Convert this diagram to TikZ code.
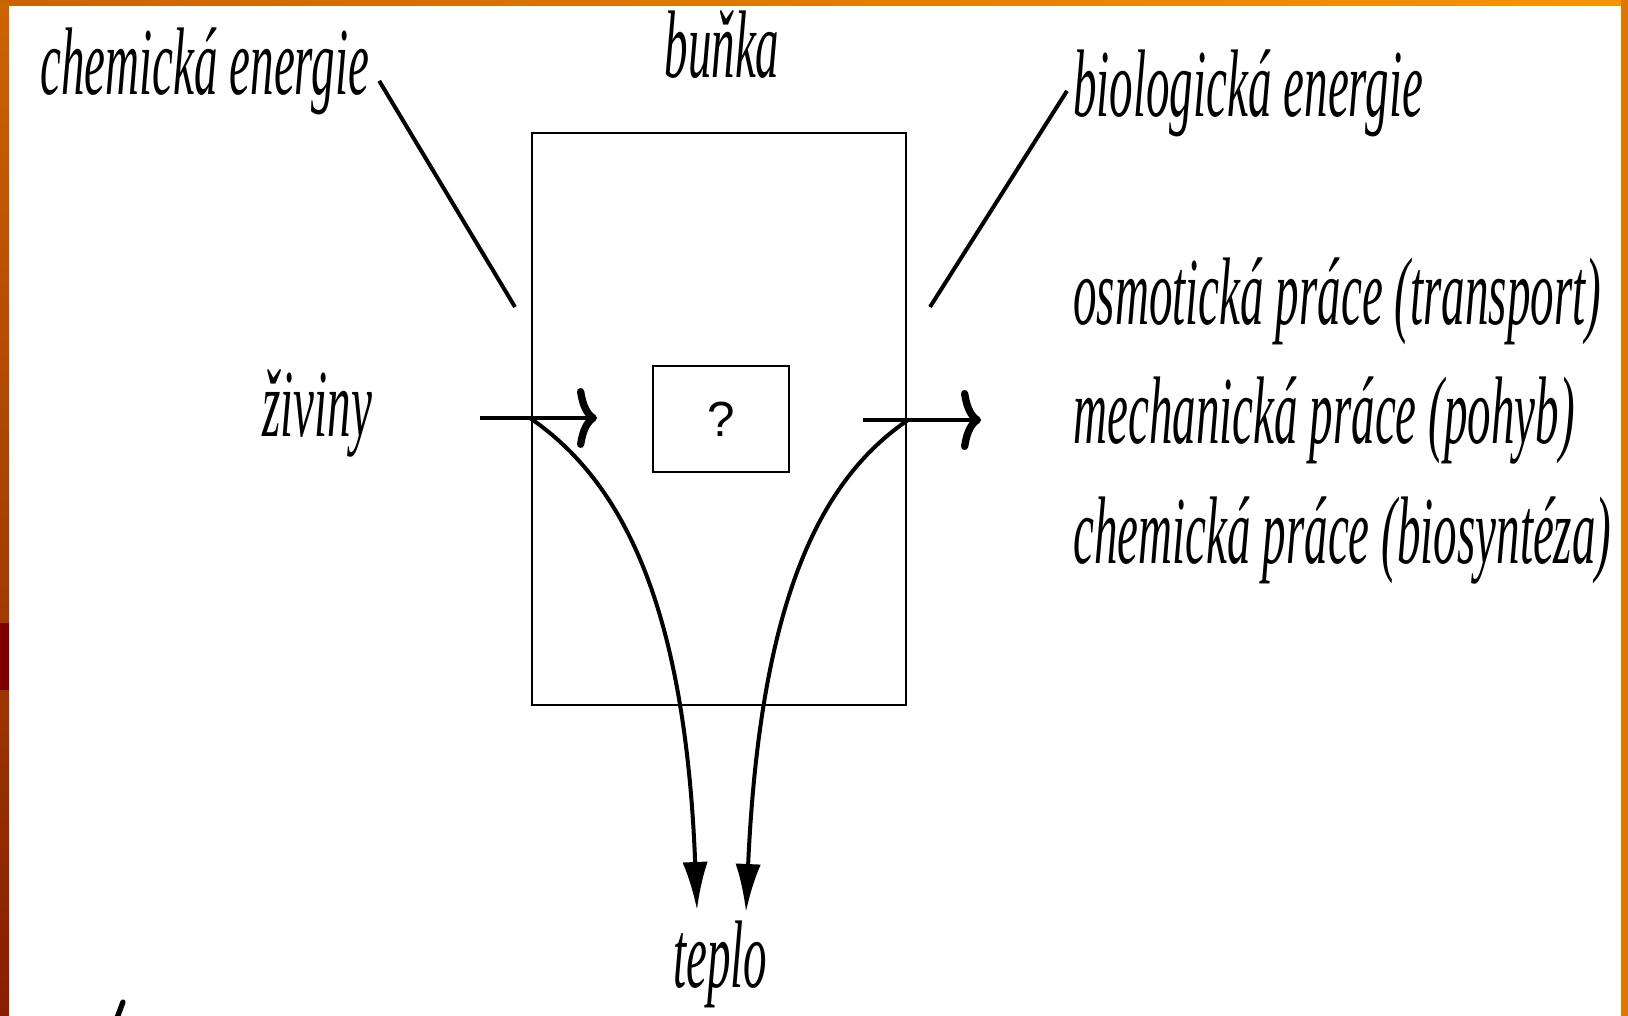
\documentclass[tikz,border=0pt]{standalone}
\usepackage{fontspec}
\setmainfont{Liberation Serif}
\newfontfamily\qfont{Liberation Sans}
\usepackage{graphicx}
\usetikzlibrary{arrows.meta,calc}

\definecolor{barTop}{RGB}{205,100,0}
\definecolor{barBot}{RGB}{135,30,0}
\definecolor{barRed}{RGB}{125,0,0}
\definecolor{topL}{RGB}{200,100,0}
\definecolor{topR}{RGB}{245,150,0}
\definecolor{barR}{RGB}{220,120,0}

\newcommand{\slim}[1]{\scalebox{0.49}[1]{#1}}

\tikzset{
  lbl/.style={inner sep=0pt, anchor=base west, font=\fontsize{72}{80}\selectfont\itshape},
  cellbox/.style={draw, line width=1.5pt, inner sep=0pt, minimum width=280.5pt, minimum height=429pt},
  qbox/.style={draw, line width=1.7pt, inner sep=0pt, minimum width=102pt, minimum height=79.5pt, font=\qfont\fontsize{37}{40}\selectfont},
  ptr/.style={line width=3pt},
  shaft/.style={line width=3.5pt, -{Computer Modern Rightarrow[length=15pt,width=45pt,line width=5.5pt]}},
  heat/.style={line width=3pt, -{Latex[length=36pt,width=19pt]}}
}

\begin{document}
\begin{tikzpicture}[x=0.75pt,y=0.75pt,yscale=-1,xscale=1]
\useasboundingbox (0,0) rectangle (1628,1016);

%Frame
\fill[white] (0,0) rectangle (1628,1016);
\shade[top color=barTop, bottom color=barBot] (0,0) rectangle (9,1016);
\fill[barRed] (0,623) rectangle (9,690);
\shade[left color=topL, right color=topR] (0,0) rectangle (1628,6);
\fill[barR] (1621,0) rectangle (1628,1016);

%Cell
\node[cellbox] (cell) at (719,419) {};
\node[qbox] (q) at (721,419) {?};

% Text Node
\node[lbl] (chem) at (40,95) {\slim{chemická energie}};
% Text Node
\node[lbl, anchor=base] (bunka) at (722,78) {\slim{buňka}};
% Text Node
\node[lbl] (bio) at (1073,117) {\slim{biologická energie}};
% Text Node
\node[lbl] (ziv) at (262,436) {\slim{živiny}};
% Text Node
\node[lbl] (teplo) at (673,987) {\slim{teplo}};
% Text Node
\node[lbl] (osm) at (1073,325) {\slim{osmotická práce (transport)}};
% Text Node
\node[lbl] (mech) at (1073,443) {\slim{mechanická práce (pohyb)}};
% Text Node
\node[lbl] (chpr) at (1073,563) {\slim{chemická práce (biosyntéza)}};

%Cut-off mark at the bottom
\draw[line width=4pt, line cap=round] (117,1018) -- (123,1002);

%Points
\coordinate (chemEnd) at (515,307);
\coordinate (bioEnd) at (930,307);
\coordinate (inStart) at (480,418);
\coordinate (inBranch) at (530,418);
\coordinate (inTip) at (597,418);
\coordinate (outStart) at (863,420);
\coordinate (outBranch) at (908,420);
\coordinate (outTip) at (981,420);
\coordinate (heatL) at (697,910);
\coordinate (heatR) at (746,912);

%Pointers
\draw[ptr] ($(chem.east)+(10,9)$) -- (chemEnd);
\draw[ptr] ($(bio.west)+(-6,-3)$) -- (bioEnd);

%Energy flow
\draw[shaft] (inStart) -- (inTip);
\draw[shaft] (outStart) -- (outTip);
\draw[heat] (inBranch) .. controls (620,480) and (685,600) .. (heatL);
\draw[heat] (outBranch) .. controls (820,480) and (760,600) .. (heatR);

\end{tikzpicture}
\end{document}
